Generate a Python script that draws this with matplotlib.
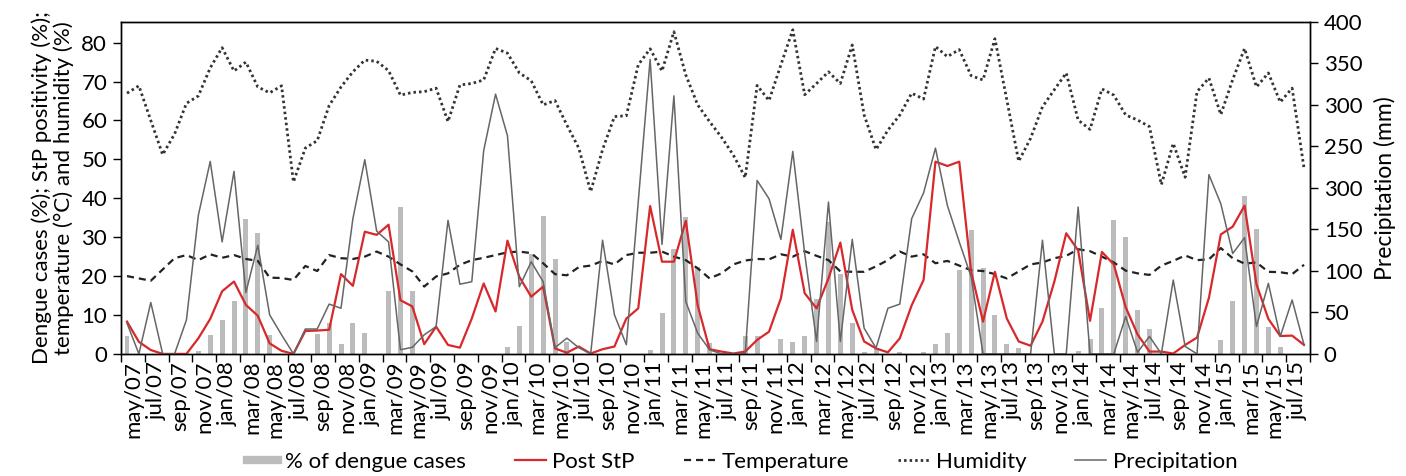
import numpy as np
import matplotlib
matplotlib.use("Agg")
import matplotlib.pyplot as plt
from matplotlib.lines import Line2D

plt.rcParams["font.family"] = ["Lato", "DejaVu Sans"]

# =========================
# DATA (monthly, may/07 .. aug/15)
# =========================
tick_labels = [
    "may/07", "jul/07", "sep/07", "nov/07",
    "jan/08", "mar/08", "may/08", "jul/08", "sep/08", "nov/08",
    "jan/09", "mar/09", "may/09", "jul/09", "sep/09", "nov/09",
    "jan/10", "mar/10", "may/10", "jul/10", "sep/10", "nov/10",
    "jan/11", "mar/11", "may/11", "jul/11", "sep/11", "nov/11",
    "jan/12", "mar/12", "may/12", "jul/12", "sep/12", "nov/12",
    "jan/13", "mar/13", "may/13", "jul/13", "sep/13", "nov/13",
    "jan/14", "mar/14", "may/14", "jul/14", "sep/14", "nov/14",
    "jan/15", "mar/15", "may/15", "jul/15",
]

dengue = [
    4.6, 0, 0, 0, 0, 0, 0.8, 4.9, 8.8, 13.5,
    34.7, 31.0, 4.9, 0, 0, 0, 5.2, 7.9, 2.5, 8.0,
    5.3, 0, 16.2, 37.8, 16.2, 0, 0, 0, 0, 0,
    0, 0, 1.9, 7.3, 25.6, 35.5, 24.5, 3.0, 0, 0,
    0, 0, 0, 0, 0.9, 10.4, 26.9, 35.3, 22.4, 2.8,
    0, 0, 4.7, 4.7, 0, 3.8, 3.0, 4.7, 14.1, 34.0,
    20.6, 7.9, 0.6, 1.4, 0, 0.4, 0, 0.4, 2.5, 5.5,
    21.6, 31.8, 22.2, 10.0, 2.5, 1.4, 0, 0, 0, 0,
    0.7, 3.8, 11.7, 34.3, 30.0, 11.3, 6.3, 0, 0, 0,
    0, 0, 3.7, 13.6, 40.7, 32.1, 7.0, 1.9, 0, 0,
]

post_stp = [
    8.3, 3.1, 1.0, 0, 0, 0, 4.0, 9.0, 16.1, 18.6,
    12.6, 9.8, 2.7, 0.8, 0, 5.9, 6.0, 6.2, 20.5, 17.5,
    31.4, 30.6, 33.2, 13.8, 12.2, 2.5, 7.0, 2.3, 1.6, 9.1,
    18.1, 10.9, 29.1, 19.8, 14.7, 17.3, 1.4, 0.3, 1.9, 0.1,
    1.2, 1.9, 9.1, 11.7, 38.0, 23.7, 23.7, 34.2, 12.5, 1.2,
    0.6, 0.1, 0.6, 3.6, 5.7, 14.3, 31.9, 15.6, 11.7, 19.4,
    28.6, 11.3, 3.2, 1.4, 0.4, 4.0, 12.5, 19.0, 49.4, 48.3,
    49.4, 21.1, 8.3, 21.1, 9.1, 3.2, 2.1, 8.3, 18.6, 31.0,
    26.6, 8.5, 26.2, 23.0, 12.0, 5.0, 0.6, 0.6, 0.1, 2.3,
    4.2, 14.4, 30.7, 32.7, 38.1, 17.9, 9.0, 4.6, 4.7, 2.3,
]

temperature = [
    20.0, 19.4, 18.8, 21.7, 24.6, 25.4, 24.1, 25.6, 24.7, 25.4,
    24.4, 23.9, 19.6, 19.5, 19.0, 22.6, 21.3, 25.4, 24.6, 24.4,
    25.0, 26.3, 25.0, 23.0, 21.2, 17.3, 19.9, 20.7, 22.9, 24.1,
    24.7, 25.4, 26.1, 26.3, 25.9, 23.3, 20.5, 20.2, 22.3, 22.7,
    23.9, 23.0, 25.4, 26.0, 26.0, 26.3, 25.0, 24.1, 22.0, 19.4,
    20.7, 23.0, 24.0, 24.4, 24.3, 25.6, 25.0, 26.4, 25.2, 24.1,
    21.2, 21.1, 21.1, 22.5, 24.1, 26.3, 25.0, 25.6, 23.3, 23.9,
    22.7, 21.5, 21.3, 20.5, 19.4, 21.2, 23.0, 23.5, 24.6, 25.2,
    26.9, 26.4, 25.0, 23.5, 21.4, 20.7, 20.3, 22.7, 23.9, 25.3,
    24.1, 24.3, 27.2, 24.6, 23.2, 23.5, 21.1, 21.0, 20.5, 22.9,
]

humidity = [
    67.0, 68.9, 60.0, 51.2, 56.5, 64.4, 66.3, 73.5, 78.7, 72.7,
    75.0, 68.6, 67.1, 68.9, 44.2, 52.9, 54.8, 63.8, 68.6, 72.5,
    75.5, 75.2, 72.8, 66.5, 67.2, 67.4, 68.3, 59.7, 69.1, 69.5,
    70.4, 78.5, 77.3, 72.2, 70.2, 64.0, 65.1, 58.8, 52.9, 41.7,
    52.5, 61.0, 61.2, 74.3, 78.4, 72.7, 82.8, 71.7, 64.0, 59.7,
    55.7, 51.1, 45.3, 69.0, 65.1, 74.3, 83.3, 66.6, 69.5, 72.5,
    69.5, 79.4, 61.4, 52.5, 57.5, 61.4, 67.0, 65.5, 79.0, 76.4,
    78.2, 71.5, 70.4, 81.0, 65.3, 49.5, 55.4, 63.5, 67.9, 72.2,
    60.1, 57.7, 68.1, 66.5, 61.4, 60.1, 58.4, 43.5, 54.1, 45.4,
    67.4, 70.9, 61.5, 70.5, 78.5, 68.6, 72.2, 64.7, 68.3, 47.7,
]

precipitation = [
    37, 0, 62, 0, 0, 41, 167, 232, 135, 220,
    74, 131, 47, 23, 0, 30, 30, 60, 55, 163,
    234, 148, 135, 5, 8, 23, 33, 161, 84, 87,
    245, 313, 263, 81, 111, 87, 7.5, 19, 7.5, 0,
    137, 47, 11, 183, 355, 132, 311, 63, 25, 5,
    0, 0, 0, 209, 187, 138, 244, 121, 15, 183,
    15, 138, 31, 7, 55, 60, 163, 194, 248, 179,
    135, 93, 0, 0, 0, 0, 0, 137, 0, 0,
    177, 0, 0, 0, 45, 2, 21, 0, 89, 9,
    0, 216, 181, 121, 140, 33, 85, 21, 65, 11,
]

right_ticks = [0, 50, 100, 150, 200, 250, 300, 350, 400]
right_tick_labels = ["0", "50", "100", "150", "300", "250", "300", "350", "400"]

# =========================
# PLOT
# =========================
x = np.arange(len(dengue)) + 0.5

fig = plt.figure(figsize=(14.06, 4.76), dpi=100)
ax = fig.add_axes([0.0861, 0.2565, 0.8456, 0.6973])

bars = ax.bar(x, dengue, width=0.42, color="#bcbcbc", zorder=1)
l_hum, = ax.plot(x, humidity, color="#333333", lw=2.0, ls=(0, (0.9, 1.1)), zorder=3)
l_tmp, = ax.plot(x, temperature, color="#222222", lw=1.6, ls=(0, (3.2, 2.2)), zorder=3)
l_stp, = ax.plot(x, post_stp, color="#d8282b", lw=1.6, zorder=4)

ax2 = ax.twinx()
l_pre, = ax2.plot(x, precipitation, color="#666666", lw=1.1, zorder=2)

ax.set_xlim(0, len(dengue))
ax.set_ylim(0, 85.3)
ax2.set_ylim(0, 400)

ax.set_xticks(np.arange(0, len(dengue) + 1, 2))
ax.set_xticklabels([])
ax.set_xticks(np.arange(1, len(dengue), 2), minor=True)
ax.set_xticklabels(tick_labels, minor=True, rotation=90, fontsize=16)
ax.tick_params(axis="x", which="major", length=6, width=1, direction="out")
ax.tick_params(axis="x", which="minor", length=0, pad=5)

ax.set_yticks(range(0, 81, 10))
ax.tick_params(axis="y", labelsize=16, length=6, width=1, pad=4)
ax2.set_yticks(right_ticks)
ax2.set_yticklabels(right_tick_labels)
ax2.tick_params(axis="y", labelsize=16, length=6, width=1, pad=4)

for a in (ax, ax2):
    for s in a.spines.values():
        s.set_linewidth(1.0)

ax.set_ylabel("Dengue cases (%); StP positivity (%);\ntemperature (°C) and humidity (%)",
              fontsize=16, linespacing=1.1, labelpad=5)
ax2.set_ylabel("Precipitation (mm)", fontsize=16.5, labelpad=8)

bar_handle = Line2D([], [], color="#bcbcbc", lw=6)
fig.legend([bar_handle, l_stp, l_tmp, l_hum, l_pre],
           ["% of dengue cases", "Post StP", "Temperature", "Humidity", "Precipitation"],
           loc="center", bbox_to_anchor=(0.528, 0.03), ncol=5, frameon=False,
           fontsize=16, handlelength=1.4, handletextpad=0.3, columnspacing=2.2)

fig.savefig("out.png", dpi=100)
